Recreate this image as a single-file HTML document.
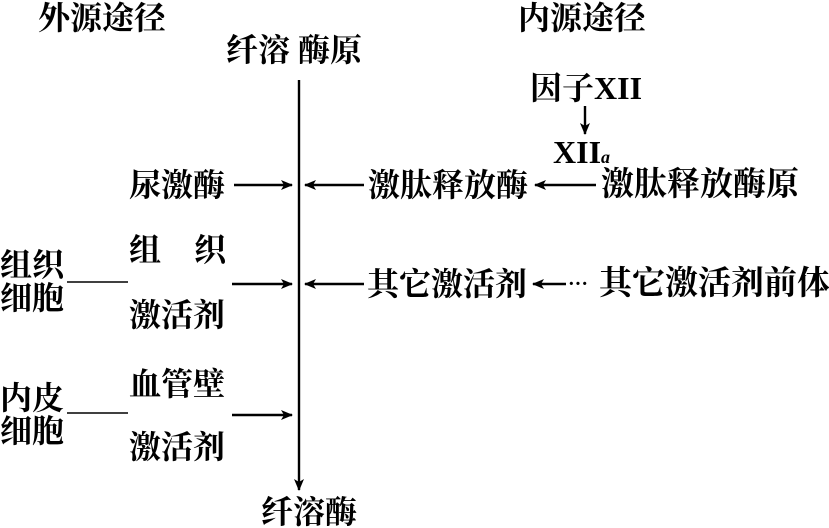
<!DOCTYPE html>
<html><head><meta charset="utf-8"><style>
html,body{margin:0;padding:0;background:#fff;}
#c{position:relative;width:829px;height:528px;overflow:hidden;font-family:"Liberation Serif","Noto Serif CJK SC","Noto Sans CJK SC",serif;color:#000;}
.t{position:absolute;font-size:32px;line-height:32px;white-space:nowrap;font-weight:bold;}
svg{position:absolute;left:0;top:0;}
</style></head><body><div id="c">
<svg width="829" height="528">
<defs><marker id="a" markerWidth="12" markerHeight="10" refX="11" refY="5" orient="auto" markerUnits="userSpaceOnUse"><path d="M0,0 L12,5 L0,10 L3,5Z" fill="#000"/></marker></defs>
<g stroke="#000" stroke-width="2.4" fill="none">
<line x1="299" y1="80" x2="299" y2="490" marker-end="url(#a)"/>
<line x1="585" y1="106" x2="585" y2="134" marker-end="url(#a)"/>
<line x1="234" y1="185" x2="292" y2="185" marker-end="url(#a)"/>
<line x1="364" y1="185" x2="305" y2="185" marker-end="url(#a)"/>
<line x1="596" y1="185" x2="535" y2="185" marker-end="url(#a)"/>
<line x1="67" y1="282" x2="128" y2="282" stroke-width="1.6"/>
<line x1="232" y1="284" x2="292" y2="284" marker-end="url(#a)"/>
<line x1="364" y1="284" x2="305" y2="284" marker-end="url(#a)"/>
<line x1="566" y1="284" x2="533" y2="284" marker-end="url(#a)"/>
<line x1="67" y1="413" x2="128" y2="413" stroke-width="1.6"/>
<line x1="232" y1="415" x2="292" y2="415" marker-end="url(#a)"/>
</g>
</svg>
<div class="t" style="left:38px;top:2px">外源途径</div>
<div class="t" style="left:518px;top:2px">内源途径</div>
<div class="t" style="left:226px;top:34px">纤溶 酶原</div>
<div class="t" style="left:530px;top:72px">因子<span style="font-family:'Liberation Serif',serif;font-weight:900">XII</span></div>
<div class="t" style="left:553px;top:136px;font-family:'Liberation Serif',serif;font-weight:900">XII<i style="font-size:18px">a</i></div>
<div class="t" style="left:129px;top:169px">尿激酶</div>
<div class="t" style="left:368px;top:169px">激肽释放酶</div>
<div class="t" style="left:601px;top:169px;font-size:33px">激肽释放酶原</div>
<div class="t" style="left:129px;top:234px">组</div>
<div class="t" style="left:194px;top:234px">织</div>
<div class="t" style="left:129px;top:299px">激活剂</div>
<div class="t" style="left:0px;top:249px">组织</div>
<div class="t" style="left:0px;top:282px">细胞</div>
<div class="t" style="left:367px;top:268px">其它激活剂</div>
<div class="t" style="left:568px;top:268px;font-size:20px">···</div>
<div class="t" style="left:599px;top:268px;font-size:33px;line-height:33px">其它激活剂前体</div>
<div class="t" style="left:129px;top:368px">血管壁</div>
<div class="t" style="left:129px;top:431px">激活剂</div>
<div class="t" style="left:0px;top:382px">内皮</div>
<div class="t" style="left:0px;top:415px">细胞</div>
<div class="t" style="left:261px;top:496px">纤溶酶</div>
</div></body></html>
